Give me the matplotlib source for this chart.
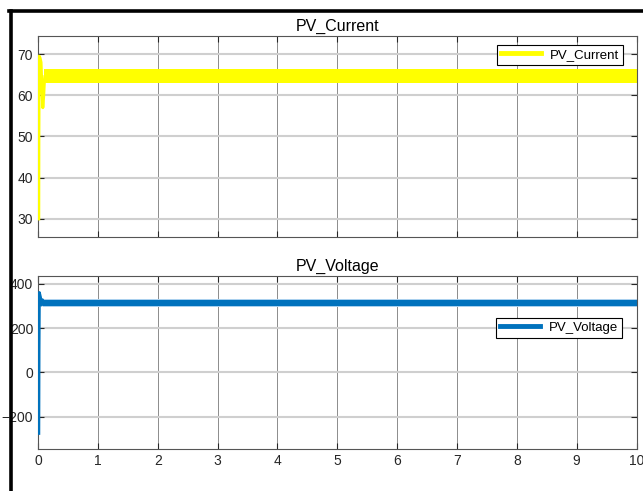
import matplotlib
matplotlib.use("Agg")
import matplotlib.pyplot as plt
from matplotlib.lines import Line2D

# start-up transient of PV current
cur_t = [0.012, 0.014, 0.02, 0.035, 0.05, 0.065, 0.08, 0.095, 0.105, 0.115]
cur_i = [30, 50, 69.5, 69, 68, 62, 57, 60, 63, 64.5]
# steady ripple band (lower / upper envelope)
cur_band_t = [0.1, 10]
cur_band_lo = [62.9, 62.9]
cur_band_hi = [66.3, 66.3]

# start-up transient of PV voltage
volt_t = [0.012, 0.016, 0.022, 0.04, 0.06, 0.075, 0.09, 0.11]
volt_v = [-275, 100, 361, 340, 305, 328, 318, 314]
volt_band_t = [0.09, 10]
volt_core_lo = [302, 302]
volt_core_hi = [326, 326]
volt_edge_lo = [294, 294]
volt_edge_hi = [334, 334]

xticks = list(range(0, 11))
cur_yticks = [30, 40, 50, 60, 70]
volt_yticks = [-200, 0, 200, 400]

plt.rcParams['font.family'] = ['Liberation Sans Narrow', 'Liberation Sans', 'DejaVu Sans']

yellow = '#ffff00'
blue = '#0072bd'
light_blue = '#a9d0ee'
txt = '#262626'

fig = plt.figure(figsize=(6.43, 4.91), dpi=100)
ax1 = fig.add_axes([0.0591, 0.5173, 0.9308, 0.4094])
ax2 = fig.add_axes([0.0591, 0.0855, 0.9308, 0.3524])


def style(ax):
    ax.set_xlim(0, 10)
    ax.set_xticks(xticks)
    ax.tick_params(direction='in', length=4, width=0.8, colors=txt,
                   labelsize=10, top=True, right=True)
    ax.xaxis.grid(True, color='#8c8c8c', lw=0.7)
    ax.yaxis.grid(True, color='#cfcfcf', lw=1.5)
    ax.set_axisbelow(True)
    for s in ax.spines.values():
        s.set_color('#555555')
        s.set_linewidth(0.8)


# current
style(ax1)
ax1.fill_between(cur_band_t, cur_band_lo, cur_band_hi, color=yellow, lw=0)
ax1.plot(cur_t, cur_i, color=yellow, lw=2.2, zorder=3)
ax1.set_ylim(25.6, 74.4)
ax1.set_yticks(cur_yticks)
ax1.tick_params(labelbottom=False)
ax1.set_title('PV_Current', fontsize=11.5, color='black', pad=4)
h1 = Line2D([], [], color=yellow, lw=3.5)
leg1 = ax1.legend([h1], ['PV_Current'], loc='upper right',
                  bbox_to_anchor=(0.989, 0.99), fontsize=9.5, fancybox=False,
                  framealpha=1, edgecolor='black', handlelength=3.0,
                  borderpad=0.3, handletextpad=0.7)
leg1.get_frame().set_linewidth(0.8)

# voltage
style(ax2)
ax2.fill_between(volt_band_t, volt_edge_lo, volt_edge_hi, color=light_blue, lw=0)
ax2.fill_between(volt_band_t, volt_core_lo, volt_core_hi, color=blue, lw=0)
ax2.plot(volt_t, volt_v, color=blue, lw=2.2, zorder=3)
ax2.set_ylim(-346, 436)
ax2.set_yticks(volt_yticks)
ax2.set_title('PV_Voltage', fontsize=11.5, color='black', pad=4)
h2 = Line2D([], [], color=blue, lw=3.5)
leg2 = ax2.legend([h2], ['PV_Voltage'], loc='center right',
                  bbox_to_anchor=(0.987, 0.70), fontsize=9.5, fancybox=False,
                  framealpha=1, edgecolor='black', handlelength=3.0,
                  borderpad=0.3, handletextpad=0.7)
leg2.get_frame().set_linewidth(0.8)

# black frame lines on top and left of the screenshot
fig.add_artist(Line2D([0.014, 1.0], [0.9776, 0.9776], color='black', lw=2.6,
                      transform=fig.transFigure))
fig.add_artist(Line2D([0.0171, 0.0171], [0.0, 0.9776], color='black', lw=2.6,
                      transform=fig.transFigure))

fig.savefig('out.png', dpi=100, facecolor='white')
